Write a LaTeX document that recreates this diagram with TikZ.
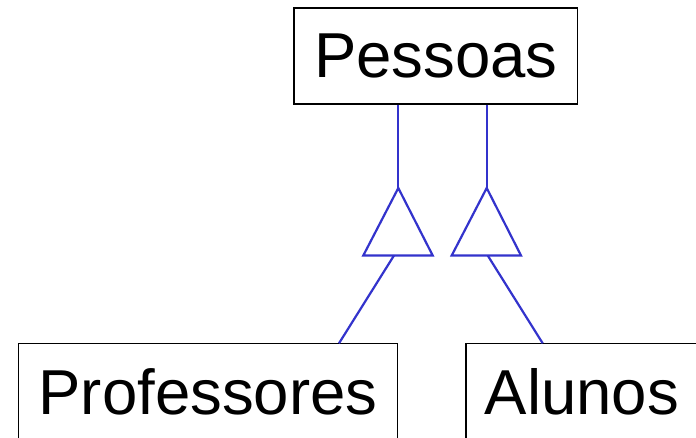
\documentclass[tikz,border=0pt]{standalone}
\usepackage{fontspec}
\setmainfont{Liberation Sans}
\definecolor{linkblue}{RGB}{51,51,204}
\begin{document}
\begin{tikzpicture}[x=1pt,y=-1pt,
  entity/.style={draw=black,line width=1.4pt,inner sep=0pt,font=\fontsize{63.5}{70}\selectfont},
  link/.style={draw=linkblue,line width=2.2pt},
  tri/.style={draw=linkblue,line width=2.2pt,line join=miter,fill=white}]
\useasboundingbox (0,0) rectangle (696,438);
\node[entity,minimum width=283.5pt,minimum height=96pt] (pessoas) at (435.8,56) {Pessoas};
\node[entity,minimum width=379.4pt,minimum height=98pt] (prof) at (208,392.3) {Professores};
\node[entity,minimum width=232pt,minimum height=98pt] (alunos) at (582,392.3) {Alunos};
% triangle 1
\coordinate (t1a) at (398.3,188);
\coordinate (t1l) at (363.3,255.5);
\coordinate (t1r) at (432.7,255.5);
\coordinate (t1f) at (394,255.5);
\coordinate (p1) at (339,343.3);
% triangle 2
\coordinate (t2a) at (486.7,188);
\coordinate (t2l) at (451.7,255.5);
\coordinate (t2r) at (521,255.5);
\coordinate (t2f) at (487.7,255.5);
\coordinate (p2) at (542.7,343.3);
\draw[link] (pessoas.south -| t1a) -- (t1a);
\draw[link] (pessoas.south -| t2a) -- (t2a);
\draw[tri] (t1a) -- (t1l) -- (t1r) -- cycle;
\draw[tri] (t2a) -- (t2l) -- (t2r) -- cycle;
\draw[link] (t1f) -- (p1);
\draw[link] (t2f) -- (p2);
\end{tikzpicture}
\end{document}
